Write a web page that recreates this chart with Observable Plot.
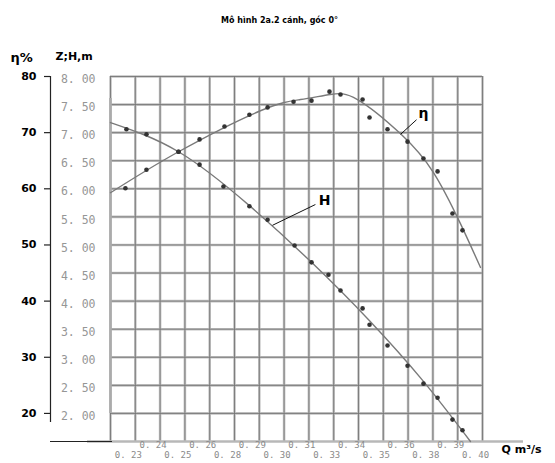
<!DOCTYPE html>
<html><head><meta charset="utf-8">
<script src="https://cdn.jsdelivr.net/npm/d3@7"></script>
<script src="https://cdn.jsdelivr.net/npm/@observablehq/plot@0.6"></script>
<style>body{margin:0;background:#fff}</style>
</head><body><div id="chart"></div>
<script>
const title = "Mô hình 2a.2 cánh, góc 0°";
const yTitleEta = "η%";
const yTitleH = "Z;H,m";
const xTitle = "Q m³/s";

// x axis (Q, m3/s)
const qMin = 0.2179, qMax = 0.40;
const qTickLabels = ["0. 23","0. 24","0. 25","0. 26","0. 28","0. 29","0. 30","0. 31","0. 33","0. 34","0. 35","0. 36","0. 38","0. 39","0. 40"];
const qGrid = d3.range(16).map(i => qMin + i * (qMax - qMin) / 15);

// H scale (m) and eta scale (%)
const hTicks = [2.0, 2.5, 3.0, 3.5, 4.0, 4.5, 5.0, 5.5, 6.0, 6.5, 7.0, 7.5, 8.0];
const hTickLabels = ["2. 00","2. 50","3. 00","3. 50","4. 00","4. 50","5. 00","5. 50","6. 00","6. 50","7. 00","7. 50","8. 00"];
const etaTicks = [20, 30, 40, 50, 60, 70, 80];

// measured points
const hQ = [0.2257,0.2355,0.2512,0.2615,0.2732,0.2859,0.2948,0.3080,0.3163,0.3246,0.3305,0.3413,0.3447,0.3535,0.3633,0.3711,0.3780,0.3853,0.3902];
const hM = [7.06,6.97,6.66,6.43,6.04,5.69,5.45,4.99,4.69,4.47,4.19,3.87,3.58,3.21,2.85,2.53,2.28,1.89,1.70];
const etaQ = [0.2252,0.2355,0.2512,0.2615,0.2737,0.2859,0.2948,0.3075,0.3163,0.3251,0.3305,0.3413,0.3447,0.3535,0.3633,0.3711,0.3780,0.3853,0.3902];
const etaPct = [60.1,63.4,66.6,68.8,71.1,73.2,74.5,75.5,75.7,77.3,76.8,75.9,72.7,70.6,68.4,65.4,63.1,55.6,52.6];

// fitted curves
const hFitQ = [0.2179,0.2512,0.2859,0.3163,0.3447,0.3711,0.3941];
const hFitM = [7.18,6.66,5.70,4.69,3.65,2.57,1.50];
const etaFitQ = [0.2179,0.2512,0.2913,0.3109,0.3256,0.3388,0.3599,0.3760,0.3892,0.3990];
const etaFitPct = [59.3,66.6,73.9,75.9,76.8,75.9,69.8,62.9,53.8,46.0];

// annotations
const labelTexts = ["H", "η"];
const labelQ = [0.3227, 0.3711];
const labelH = [5.79, 7.34];
const leaderQ1 = [0.2972, 0.3599], leaderH1 = [5.35, 6.97];
const leaderQ2 = [0.3182, 0.3677], leaderH2 = [5.72, 7.23];

const rows = (xs, ys) => xs.map((x, i) => ({x, y: ys[i]}));
const hPts = rows(hQ, hM);
const etaPts = rows(etaQ, etaPct.map(v => v / 10));
const hFit = rows(hFitQ, hFitM);
const etaFit = rows(etaFitQ, etaFitPct.map(v => v / 10));
const qLabelRows = qTickLabels.map((t, i) => ({x: qGrid[i + 1], t, top: i % 2 === 1}));
const annos = labelTexts.map((t, i) => ({t, x: labelQ[i], y: labelH[i]}));
const leaders = leaderQ1.map((q, i) => ({x1: q, y1: leaderH1[i], x2: leaderQ2[i], y2: leaderH2[i]}));

const gridLight = "#c2c2c2", gridDark = "#767676";
const chart = Plot.plot({
  width: 555, height: 463,
  marginLeft: 110, marginRight: 73, marginTop: 76, marginBottom: 22,
  x: {domain: [qMin, qMax], axis: null},
  y: {domain: [1.5, 8.0], axis: null},
  style: {background: "white", fontFamily: "DejaVu Sans", overflow: "visible"},
  marks: [
    // grid
    Plot.ruleX(qGrid, {y1: 1.5, y2: 8.0, stroke: gridLight, strokeWidth: 2.6}),
    Plot.ruleY(hTicks, {x1: qMin, x2: qMax, stroke: gridLight, strokeWidth: 2.6}),
    Plot.ruleX(qGrid, {y1: 1.5, y2: 8.0, stroke: gridDark, strokeWidth: 0.9}),
    Plot.ruleY(hTicks, {x1: qMin, x2: qMax, stroke: gridDark, strokeWidth: 0.9}),
    // extended grey frame lines
    Plot.ruleY([1.5], {x1: qMin, x2: qMax, insetLeft: -23, insetRight: -41, stroke: "#b8b8b8", strokeWidth: 2.6}),
    Plot.ruleX([qMin], {y1: 1.5, y2: 8.0, insetTop: -28, insetBottom: -22, stroke: "#ababab", strokeWidth: 2.6}),
    // black eta axis
    Plot.ruleX([qMin], {y1: 1.5, y2: 8.0, dx: -60, insetTop: -19, stroke: "#222", strokeWidth: 1.2}),
    Plot.ruleY([1.5], {x1: qMin, x2: qMin, insetLeft: -60, insetRight: -2, stroke: "#222", strokeWidth: 1.2}),
    Plot.ruleY(etaTicks, {y: d => d / 10, x1: qMin, x2: qMin, insetLeft: -66, insetRight: 60, stroke: "#222", strokeWidth: 1.2}),
    Plot.text(etaTicks, {x: qMin, y: d => d / 10, text: d => String(d), dx: -74, textAnchor: "end", fontWeight: "bold", fontSize: 11, fill: "#000"}),
    // H labels
    Plot.text(hTicks, {x: qMin, y: d => d, text: (d, i) => hTickLabels[i], dx: -15, dy: 3, textAnchor: "end", fontFamily: "DejaVu Sans Mono", fontSize: 11.5, fill: "#969696"}),
    // Q labels
    Plot.text(qLabelRows.filter(d => d.top), {x: "x", y: 1.5, text: "t", dx: -7, dy: 4, fontFamily: "DejaVu Sans Mono", fontSize: 9, fill: "#8a8a8a"}),
    Plot.text(qLabelRows.filter(d => !d.top), {x: "x", y: 1.5, text: "t", dx: -7, dy: 14, fontFamily: "DejaVu Sans Mono", fontSize: 9, fill: "#8a8a8a"}),
    // curves
    Plot.line(hFit, {x: "x", y: "y", curve: "natural", stroke: "#7a7a7a", strokeWidth: 1.4}),
    Plot.line(etaFit, {x: "x", y: "y", curve: "natural", stroke: "#7a7a7a", strokeWidth: 1.4}),
    Plot.dot(hPts, {x: "x", y: "y", r: 2.3, fill: "#333"}),
    Plot.dot(etaPts, {x: "x", y: "y", r: 2.3, fill: "#333"}),
    // annotations
    Plot.link(leaders, {x1: "x1", y1: "y1", x2: "x2", y2: "y2", stroke: "#111", strokeWidth: 1}),
    Plot.text(annos, {x: "x", y: "y", text: "t", fontWeight: "bold", fontSize: 14, fill: "#000"}),
    // titles
    Plot.text([title], {text: d => d, frameAnchor: "top", dx: -17, dy: -59, fontWeight: "bold", fontSize: 8, fill: "#000"}),
    Plot.text([yTitleEta], {text: d => d, frameAnchor: "top-left", dx: -100, dy: -24, textAnchor: "start", fontWeight: "bold", fontSize: 13, fill: "#000"}),
    Plot.text([yTitleH], {text: d => d, frameAnchor: "top-left", dx: -55, dy: -24, textAnchor: "start", fontWeight: "bold", fontSize: 11, fill: "#000"}),
    Plot.text([xTitle], {text: d => d, frameAnchor: "bottom-right", dx: 19, dy: 11, textAnchor: "start", fontWeight: "bold", fontSize: 11, fill: "#000"})
  ]
});
document.getElementById("chart").appendChild(chart);
</script>
</body></html>
